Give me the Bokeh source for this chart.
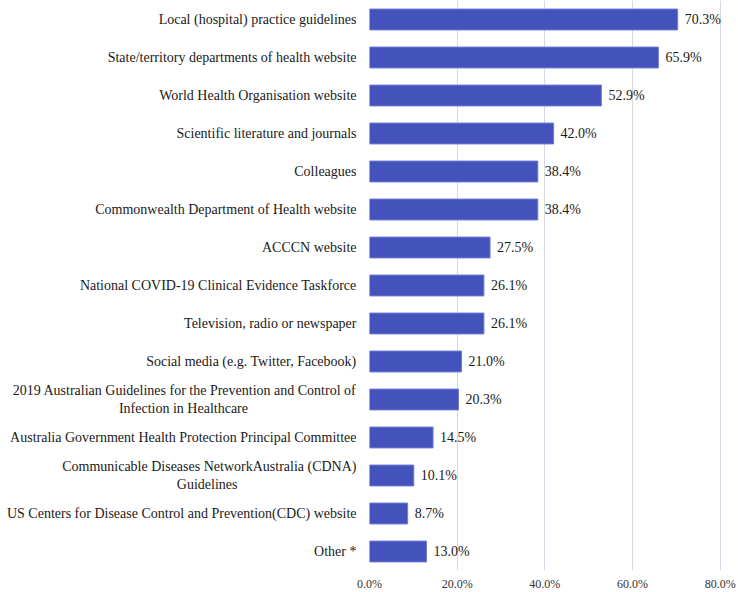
from bokeh.plotting import figure
from bokeh.models import FactorRange, Range1d, FixedTicker, ColumnDataSource
from bokeh.core.properties import value
from bokeh.embed import file_html
from bokeh.resources import INLINE

NB = "\u00a0"
categories = [
    "Local (hospital) practice guidelines",
    "State/territory departments of health website",
    "World Health Organisation website",
    "Scientific literature and journals",
    "Colleagues",
    "Commonwealth Department of Health website",
    "ACCCN website",
    "National COVID-19 Clinical Evidence Taskforce",
    "Television, radio or newspaper",
    "Social media (e.g. Twitter, Facebook)",
    "2019 Australian Guidelines for the Prevention and Control of\nInfection in Healthcare" + NB * 31,
    "Australia Government Health Protection Principal Committee",
    "Communicable Diseases NetworkAustralia (CDNA)\nGuidelines" + NB * 34,
    "US Centers for Disease Control and Prevention(CDC) website",
    "Other *",
]
percent = [70.3, 65.9, 52.9, 42.0, 38.4, 38.4, 27.5, 26.1, 26.1, 21.0, 20.3, 14.5, 10.1, 8.7, 13.0]
x_ticks = [0, 20, 40, 60, 80]

FONT = "'Liberation Serif', 'Times New Roman', serif"

labels = ["%.1f%%" % v for v in percent]
src = ColumnDataSource(dict(cat=categories, val=percent, lab=labels))

yr = FactorRange(factors=list(reversed(categories)))
p = figure(y_range=yr, x_range=Range1d(0, 80.3), output_backend="svg", toolbar_location=None,
           frame_width=352, frame_height=570, min_border_left=369, min_border_right=17,
           min_border_top=0, min_border_bottom=22)
p.outline_line_color = None
p.background_fill_color = "white"

p.hbar(y="cat", right="val", left=0, height=0.55, source=src,
       fill_color="#4452bc", line_color="#6f7cd6", line_width=1)
p.text(x="val", y="cat", text="lab", source=src, x_offset=7,
       text_align="left", text_baseline="middle",
       text_font=value(FONT), text_font_size="14px", text_color="#1a1a1a")

p.xaxis.ticker = FixedTicker(ticks=x_ticks)
p.xaxis.major_label_overrides = {t: "%.1f%%" % t for t in x_ticks}
p.xaxis.axis_line_color = None
p.xaxis.major_tick_line_color = None
p.xaxis.minor_tick_line_color = None
p.xaxis.major_tick_in = 0
p.xaxis.major_tick_out = 0
p.xaxis.major_label_text_font = FONT
p.xaxis.major_label_text_font_size = "12px"
p.xaxis.major_label_text_color = "#333333"
p.xaxis.major_label_standoff = 6

p.yaxis.axis_line_color = None
p.yaxis.major_tick_line_color = None
p.yaxis.minor_tick_line_color = None
p.yaxis.major_tick_in = 0
p.yaxis.major_tick_out = 0
p.yaxis.major_label_text_font = FONT
p.yaxis.major_label_text_font_size = "14px"
p.yaxis.major_label_text_color = "#1a1a1a"
p.yaxis.major_label_standoff = 13

p.ygrid.grid_line_color = None
p.xgrid.grid_line_color = "#d5d9e6"
p.xgrid.grid_line_width = 1
p.xgrid.ticker = FixedTicker(ticks=x_ticks)

open("out.html", "w").write(file_html(p, INLINE))
